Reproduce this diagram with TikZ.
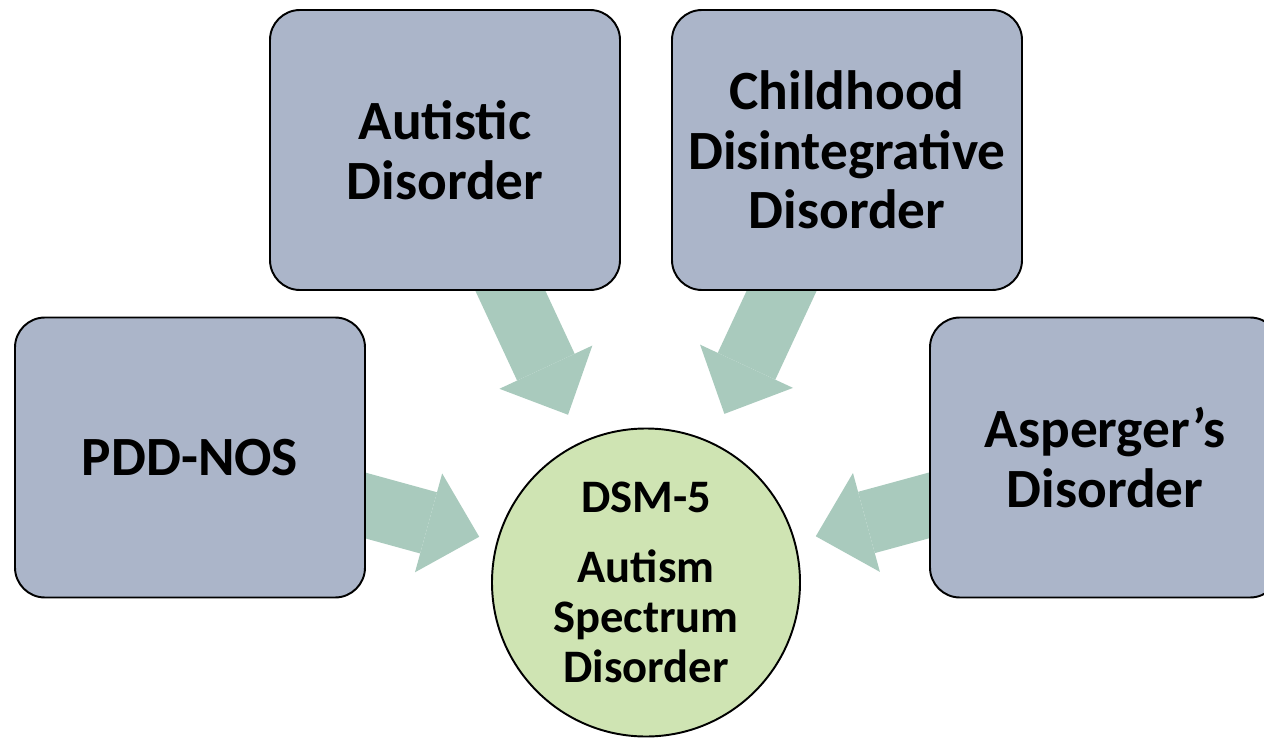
\documentclass[tikz,border=0pt]{standalone}
\usepackage{fontspec}
\setmainfont{Carlito}
\usetikzlibrary{arrows.meta,backgrounds}
\definecolor{boxc}{HTML}{ABB5C9}
\definecolor{flowc}{HTML}{A9CABD}
\definecolor{asdc}{HTML}{CFE4B3}
\begin{document}
\begin{tikzpicture}
			\tikzset{b/.style={draw=black, line width=1.1pt, fill=boxc, rounded corners=0.6cm, minimum width=7cm, minimum height=5.6cm, align=center, font=\bfseries\fontsize{31.5}{34}\selectfont},
			c/.style={draw=black, line width=1.1pt, fill=asdc, circle, minimum size=6.16cm, inner sep=0pt, align=center, font=\bfseries\fontsize{26.5}{28.5}\selectfont},
			f/.style={draw=flowc, line width=1.27cm, -{Triangle[length=1.05cm, width=2.05cm, line width=0pt]}, shorten <=-0.5cm}};

			\path[use as bounding box, clip] (0,0) rectangle (25.28,-14.84);

			\node[b] (aut) at (8.9,-3.0) {Autistic\\Disorder};
			\node[b] (chd) at (16.94,-3.0) {Childhood\\Disintegrative\\Disorder};
			\node[b] (pdd) at (3.8,-9.15) {PDD-NOS};
			\node[b] (asp) at (22.1,-9.15) {Asperger’s\\Disorder};
			\node[c] (asd) at (12.92,-11.65) {DSM-5\\[11pt]Autism\\Spectrum\\Disorder};

			\begin{scope}[on background layer]
			\draw[f, shorten >=0.6cm] (aut) -- (asd);
			\draw[f, shorten >=0.62cm] (chd) -- (asd);
			\draw[f, shorten >=0.36cm] (pdd) -- (asd);
			\draw[f, shorten >=0.42cm] (asp) -- (asd);
			\end{scope}
	\end{tikzpicture}
\end{document}
